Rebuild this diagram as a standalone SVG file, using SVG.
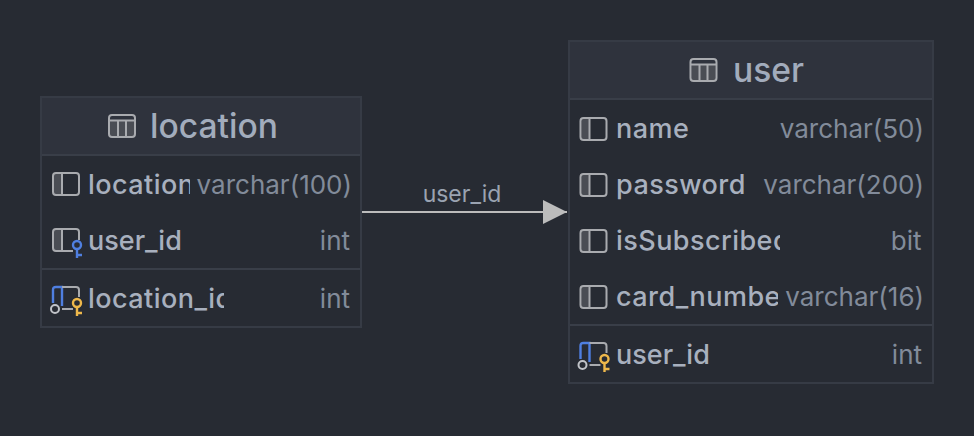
<svg xmlns="http://www.w3.org/2000/svg" width="974" height="436" viewBox="0 0 974 436">
<style>
text{font-family:Inter,"Liberation Sans",sans-serif}
.box{fill:#272b33;stroke:#363b45;stroke-width:2}
.hd{fill:#2f333d}
.sep{stroke:#393e48;stroke-width:2;fill:none}
.title{font-size:33.6px;font-weight:500;fill:#a2acbc}
.nm{font-size:27px;font-weight:500;letter-spacing:.45px;fill:#a8b0be}
.tight{letter-spacing:0}
.ty{font-size:26px;fill:#828b9a;text-anchor:end}
.ic{fill:none;stroke:#a9abaf;stroke-width:2}
.if{fill:#4a4d54}
.blue{fill:none;stroke:#4f7fe0;stroke-width:2.4}
.gold{fill:none;stroke:#eeb84b;stroke-width:2.4}
.ring{fill:none;stroke:#c0c3c8;stroke-width:2}
.lbl{font-size:23px;fill:#9aa3b1;text-anchor:middle}
</style>
<defs>
<marker id="arr" markerUnits="userSpaceOnUse" markerWidth="24" markerHeight="24" refX="24" refY="12" orient="auto"><path d="M0 0L24 12L0 24Z" fill="#bcbcbc"/></marker>
<clipPath id="c1"><rect x="86" y="165" width="104" height="40"/></clipPath>
<clipPath id="c2"><rect x="86" y="279" width="138" height="40"/></clipPath>
<clipPath id="c3"><rect x="614" y="221" width="166" height="40"/></clipPath>
<clipPath id="c4"><rect x="614" y="277" width="164" height="40"/></clipPath>
<symbol id="tbl" overflow="visible"><rect x="2" y="6" width="24" height="16" class="if"/><rect x="1" y="1" width="26" height="22" rx="3" class="ic"/><path d="M1 6.500H27M10 6.500V23M18 6.500V23" class="ic"/></symbol>
<symbol id="col" overflow="visible"><rect x="2" y="2" width="8" height="20" class="if"/><rect x="1" y="1" width="26" height="22" rx="3" class="ic"/><path d="M10 1V23" class="ic"/></symbol>
<symbol id="fk" overflow="visible"><rect x="2" y="2" width="8" height="20" class="if"/><path d="M27 12V4Q27 1 24 1H4Q1 1 1 4V20Q1 23 4 23H21M10 1V23" class="ic"/><circle cx="25" cy="17" r="4" class="blue"/><path d="M25 21V30M25 27H30" class="blue"/></symbol>
<symbol id="pk" overflow="visible"><path d="M1 17V4Q1 1 4 1H10V20" class="blue"/><path d="M10 1H24Q27 1 27 4V11M10 23H21" class="ic"/><circle cx="3" cy="23" r="4" class="ring"/><circle cx="25" cy="17" r="4" class="gold"/><path d="M25 21V30M25 27H30" class="gold"/></symbol>
</defs>
<rect width="974" height="436" fill="#272b33"/>
<g id="connectors">
<path d="M361 212H567" stroke="#bcbcbc" stroke-width="2" fill="none" marker-end="url(#arr)"/>
<text x="462" y="202" class="lbl">user_id</text>
</g>
<g id="location">
<rect x="41" y="97" width="320" height="230" class="box"/>
<rect x="42" y="98" width="318" height="57" class="hd"/>
<path d="M42 155H360M42 269H360" class="sep"/>
<use href="#tbl" x="108" y="114"/>
<text x="150" y="138" class="title">location</text>
<use href="#col" x="52" y="172"/>
<text x="88" y="194" class="nm" clip-path="url(#c1)">location</text>
<text x="352" y="194" class="ty">varchar(100)</text>
<use href="#fk" x="52" y="228"/>
<text x="88" y="250" class="nm tight">user_id</text>
<text x="350" y="250" class="ty">int</text>
<use href="#pk" x="52" y="286"/>
<text x="88" y="308" class="nm" clip-path="url(#c2)">location_id</text>
<text x="350" y="308" class="ty">int</text>
</g>
<g id="user">
<rect x="569" y="41" width="364" height="342" class="box"/>
<rect x="570" y="42" width="362" height="57" class="hd"/>
<path d="M570 99H932M570 325H932" class="sep"/>
<use href="#tbl" x="689.500" y="58"/>
<text x="733" y="82" class="title">user</text>
<use href="#col" x="579.500" y="117"/>
<text x="616" y="138" class="nm">name</text>
<text x="924" y="138" class="ty">varchar(50)</text>
<use href="#col" x="579.500" y="173"/>
<text x="616" y="194" class="nm">password</text>
<text x="924" y="194" class="ty">varchar(200)</text>
<use href="#col" x="579.500" y="229"/>
<text x="616" y="250" class="nm" clip-path="url(#c3)">isSubscribed</text>
<text x="921.500" y="250" class="ty">bit</text>
<use href="#col" x="579.500" y="285"/>
<text x="616" y="306" class="nm" clip-path="url(#c4)">card_number</text>
<text x="924" y="306" class="ty">varchar(16)</text>
<use href="#pk" x="579.500" y="342"/>
<text x="616" y="364" class="nm tight">user_id</text>
<text x="922" y="364" class="ty">int</text>
</g>
</svg>
